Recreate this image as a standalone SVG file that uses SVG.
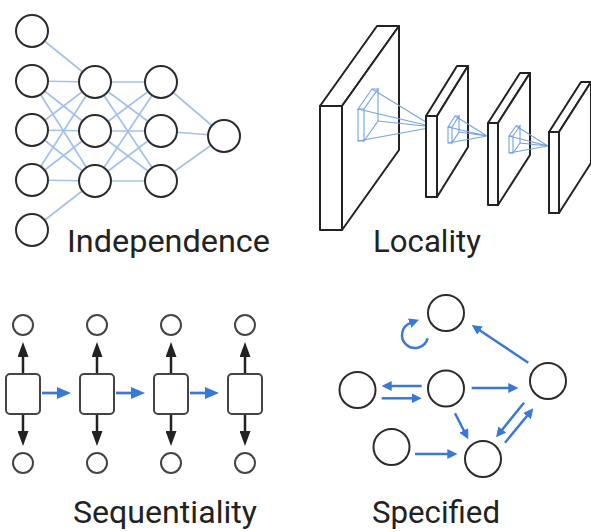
<svg xmlns="http://www.w3.org/2000/svg" width="591" height="532" viewBox="0 0 591 532">
<style>
.n{fill:#fff;stroke:#2b2b2b;stroke-width:2}
.e{stroke:#a3c2ea;stroke-width:1.7;fill:none}
.slab{fill:#fff;stroke:#222;stroke-width:2;stroke-linejoin:round}
.pyr{fill:none;stroke:#74a3e2;stroke-width:1.1}
.ba{stroke:#3a78d6;stroke-width:2.5;fill:none;marker-end:url(#hb)}
.sa{stroke:#3a78d6;stroke-width:2.7;fill:none;marker-end:url(#hs)}
.ka{stroke:#222;stroke-width:2.5;fill:none;marker-end:url(#hk)}
.box{fill:#fff;stroke:#444;stroke-width:2}
.sn{fill:#fff;stroke:#444;stroke-width:2}
.lbl{font-family:Roboto,"Liberation Sans",sans-serif;font-size:32px;fill:#222}
</style>
<defs>
<marker id="hb" markerUnits="userSpaceOnUse" markerWidth="10" markerHeight="10" refX="1" refY="5" orient="auto"><path d="M0,0 L10,5 L0,10 z" fill="#3a78d6"/></marker>
<marker id="hs" markerUnits="userSpaceOnUse" markerWidth="14" markerHeight="12" refX="1" refY="6" orient="auto"><path d="M0,0 L14,6 L0,12 z" fill="#3a78d6"/></marker>
<marker id="hk" markerUnits="userSpaceOnUse" markerWidth="15" markerHeight="11" refX="1" refY="5.5" orient="auto"><path d="M0,0 L15,5.5 L0,11 z" fill="#222"/></marker>
</defs>
<rect width="591" height="532" fill="#fff"/>

<!-- Independence -->
<g id="independence-edges">
<line class="e" x1="32" y1="31" x2="95" y2="82"/>
<line class="e" x1="32" y1="81" x2="95" y2="82"/>
<line class="e" x1="32" y1="81" x2="95" y2="131"/>
<line class="e" x1="32" y1="81" x2="95" y2="181"/>
<line class="e" x1="32" y1="130" x2="95" y2="82"/>
<line class="e" x1="32" y1="130" x2="95" y2="131"/>
<line class="e" x1="32" y1="130" x2="95" y2="181"/>
<line class="e" x1="32" y1="180" x2="95" y2="82"/>
<line class="e" x1="32" y1="180" x2="95" y2="131"/>
<line class="e" x1="32" y1="180" x2="95" y2="181"/>
<line class="e" x1="32" y1="230" x2="95" y2="181"/>
<line class="e" x1="95" y1="82" x2="161" y2="82"/>
<line class="e" x1="95" y1="82" x2="161" y2="131"/>
<line class="e" x1="95" y1="82" x2="161" y2="181"/>
<line class="e" x1="95" y1="131" x2="161" y2="82"/>
<line class="e" x1="95" y1="131" x2="161" y2="131"/>
<line class="e" x1="95" y1="131" x2="161" y2="181"/>
<line class="e" x1="95" y1="181" x2="161" y2="82"/>
<line class="e" x1="95" y1="181" x2="161" y2="131"/>
<line class="e" x1="95" y1="181" x2="161" y2="181"/>
<line class="e" x1="161" y1="82" x2="224" y2="136"/>
<line class="e" x1="161" y1="131" x2="224" y2="136"/>
<line class="e" x1="161" y1="181" x2="224" y2="136"/>
</g>
<g id="mlp-in-1"><circle class="n" cx="32" cy="31" r="16"/></g>
<g id="mlp-in-2"><circle class="n" cx="32" cy="81" r="16"/></g>
<g id="mlp-in-3"><circle class="n" cx="32" cy="130" r="16"/></g>
<g id="mlp-in-4"><circle class="n" cx="32" cy="180" r="16"/></g>
<g id="mlp-in-5"><circle class="n" cx="32" cy="230" r="16"/></g>
<g id="mlp-h1-1"><circle class="n" cx="95" cy="82" r="16"/></g>
<g id="mlp-h1-2"><circle class="n" cx="95" cy="131" r="16"/></g>
<g id="mlp-h1-3"><circle class="n" cx="95" cy="181" r="16"/></g>
<g id="mlp-h2-1"><circle class="n" cx="161" cy="82" r="16"/></g>
<g id="mlp-h2-2"><circle class="n" cx="161" cy="131" r="16"/></g>
<g id="mlp-h2-3"><circle class="n" cx="161" cy="181" r="16"/></g>
<g id="mlp-out"><circle class="n" cx="224" cy="136" r="16"/></g>
<text class="lbl" x="67" y="252" textLength="203" lengthAdjust="spacingAndGlyphs">Independence</text>

<!-- Locality -->
<g id="slab-1">
<path class="slab" d="M320,106 L377,26 L399,26 L342,106 Z"/>
<path class="slab" d="M342,106 L399,26 L399,150 L342,230 Z"/>
<rect class="slab" x="320" y="106" width="22" height="124"/>
<path class="pyr" d="M358,109 L372,89 L378,89 L364,109 Z M364,109 L378,89 L378,121 L364,141 Z M358,109 H364 V141 H358 Z"/>
<path class="pyr" d="M372,89 L434,127 M358,109 L434,127 M358,141 L434,127 M378,121 L434,127"/>
</g>
<g id="slab-2">
<path class="slab" d="M426,116 L457,66 L468,66 L437,116 Z"/>
<path class="slab" d="M437,116 L468,66 L468,147 L437,197 Z"/>
<rect class="slab" x="426" y="116" width="11" height="81"/>
<path class="pyr" d="M448,127 L455,116 L459,116 L452,127 Z M452,127 L459,116 L459,132 L452,143 Z M448,127 H452 V143 H448 Z"/>
<path class="pyr" d="M455,116 L487,136 M448,127 L487,136 M448,143 L487,136 M459,132 L487,136"/>
</g>
<g id="slab-3">
<path class="slab" d="M488,123 L520,73 L530,73 L498,123 Z"/>
<path class="slab" d="M498,123 L530,73 L530,155 L498,205 Z"/>
<rect class="slab" x="488" y="123" width="10" height="82"/>
<path class="pyr" d="M509,136 L516,126 L520,126 L513,136 Z M513,136 L520,126 L520,143 L513,153 Z M509,136 H513 V153 H509 Z"/>
<path class="pyr" d="M516,126 L548,146 M509,136 L548,146 M509,153 L548,146 M520,143 L548,146"/>
</g>
<g id="slab-4">
<path class="slab" d="M549,132 L581,82 L591,82 L559,132 Z"/>
<path class="slab" d="M559,132 L591,82 L591,163 L559,213 Z"/>
<rect class="slab" x="549" y="132" width="10" height="81"/>
</g>
<text class="lbl" x="373" y="252" textLength="108" lengthAdjust="spacingAndGlyphs">Locality</text>

<!-- Sequentiality -->
<g id="seq-connectors">
<line class="ka" x1="23" y1="374" x2="23" y2="356"/>
<line class="ka" x1="97" y1="374" x2="97" y2="356"/>
<line class="ka" x1="171" y1="374" x2="171" y2="356"/>
<line class="ka" x1="245" y1="374" x2="245" y2="356"/>
<line class="ka" x1="23" y1="414" x2="23" y2="432"/>
<line class="ka" x1="97" y1="414" x2="97" y2="432"/>
<line class="ka" x1="171" y1="414" x2="171" y2="432"/>
<line class="ka" x1="245" y1="414" x2="245" y2="432"/>
<line class="sa" x1="42" y1="393" x2="58" y2="393"/>
<line class="sa" x1="116" y1="393" x2="132" y2="393"/>
<line class="sa" x1="190" y1="393" x2="206" y2="393"/>
</g>
<g id="seq-1"><circle class="sn" cx="23" cy="325" r="10"/><rect class="box" x="6" y="374" width="34" height="40" rx="4"/><circle class="sn" cx="23" cy="463" r="10"/></g>
<g id="seq-2"><circle class="sn" cx="97" cy="325" r="10"/><rect class="box" x="80" y="374" width="34" height="40" rx="4"/><circle class="sn" cx="97" cy="463" r="10"/></g>
<g id="seq-3"><circle class="sn" cx="171" cy="325" r="10"/><rect class="box" x="154" y="374" width="34" height="40" rx="4"/><circle class="sn" cx="171" cy="463" r="10"/></g>
<g id="seq-4"><circle class="sn" cx="245" cy="325" r="10"/><rect class="box" x="228" y="374" width="34" height="40" rx="4"/><circle class="sn" cx="245" cy="463" r="10"/></g>
<text class="lbl" x="73" y="523" textLength="184" lengthAdjust="spacingAndGlyphs">Sequentiality</text>

<!-- Specified -->
<g id="graph-connectors">
<path class="ba" d="M427.6,338.4 A13,13 0 1 1 410.6,322.8"/>
<line class="ba" x1="421.7" y1="386" x2="390.7" y2="386"/>
<line class="ba" x1="381.7" y1="398.3" x2="412.7" y2="398.3"/>
<line class="ba" x1="471.7" y1="388" x2="509.3" y2="388"/>
<line class="ba" x1="528.3" y1="362.7" x2="479.2" y2="330"/>
<line class="ba" x1="455" y1="413.3" x2="464.2" y2="431.3"/>
<line class="ba" x1="415" y1="454" x2="448.3" y2="454"/>
<line class="ba" x1="524" y1="402.7" x2="501.7" y2="430.3"/>
<line class="ba" x1="505" y1="442.7" x2="527.6" y2="415.3"/>
</g>
<g id="g-top"><circle class="n" cx="446" cy="313" r="18"/></g>
<g id="g-left"><circle class="n" cx="357.5" cy="390" r="18"/></g>
<g id="g-mid"><circle class="n" cx="446" cy="388.5" r="18"/></g>
<g id="g-right"><circle class="n" cx="548" cy="381" r="18"/></g>
<g id="g-bottomleft"><circle class="n" cx="391.5" cy="447" r="18"/></g>
<g id="g-bottom"><circle class="n" cx="483" cy="459" r="18"/></g>
<text class="lbl" x="372" y="523" textLength="128" lengthAdjust="spacingAndGlyphs">Specified</text>
</svg>
